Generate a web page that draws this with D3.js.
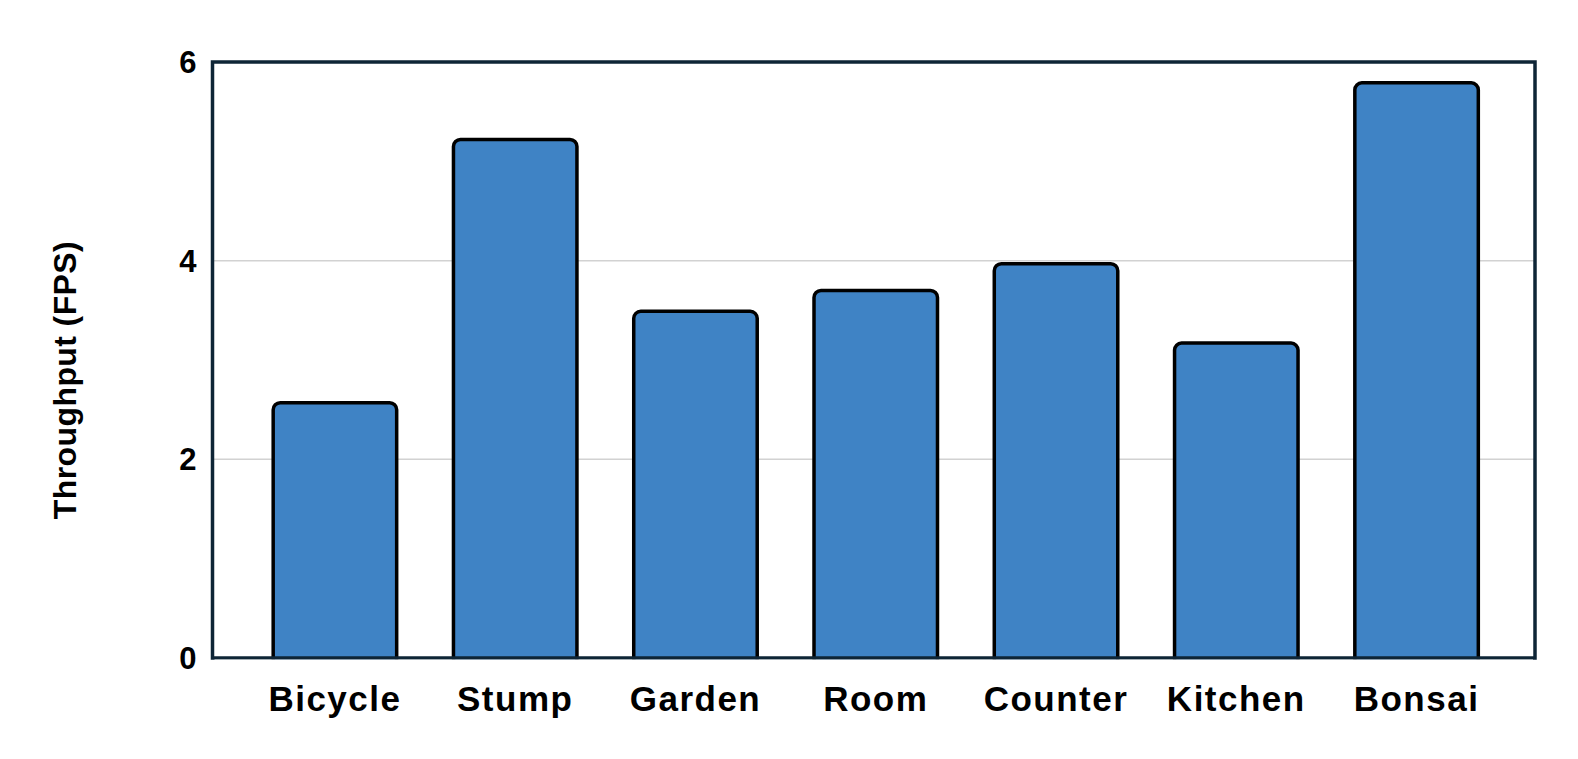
<!DOCTYPE html>
<html lang="en">
<head>
    <meta charset="UTF-8">
    <title>Throughput (FPS) by Scene</title>
    <script src="https://d3js.org/d3.v7.min.js"></script>
    <style>
        body { margin: 0; background: #fff; }
        .tick-label { font: bold 31px "Liberation Sans", Arial, sans-serif; fill: #000; }
        .cat-label { font: bold 35px "Liberation Sans", Arial, sans-serif; fill: #000; letter-spacing: 1.5px; }
        .axis-title { font: bold 32px "Liberation Sans", Arial, sans-serif; fill: #000; letter-spacing: 0.4px; }
    </style>
</head>
<body>
    <div id="chart"></div>
    <script>
        const scenes = ["Bicycle", "Stump", "Garden", "Room", "Counter", "Kitchen", "Bonsai"];
        const fps = [2.57, 5.22, 3.49, 3.70, 3.97, 3.17, 5.79];
        const yTicks = [0, 2, 4, 6];

        const W = 1578, H = 759;
        const margin = {top: 62, right: 43, bottom: 101, left: 212.5};
        const width = W - margin.left - margin.right,
              height = H - margin.top - margin.bottom;

        const svg = d3.select("#chart").append("svg")
            .attr("width", W)
            .attr("height", H);

        const g = svg.append("g")
            .attr("transform", `translate(${margin.left},${margin.top})`);

        const x = d3.scaleBand().domain(scenes).range([3, width + 1])
            .paddingInner(0.315).paddingOuter(0.32);
        const y = d3.scaleLinear().domain([0, 6]).range([height, 0]);

        // gridlines
        g.selectAll(".grid").data(yTicks.filter(t => t > 0 && t < 6)).enter()
            .append("line")
            .attr("x1", 0).attr("x2", width)
            .attr("y1", d => y(d)).attr("y2", d => y(d))
            .attr("stroke", "#d2d2d2").attr("stroke-width", 1.5);

        // bars
        g.selectAll(".bar").data(scenes).enter()
            .append("rect")
            .attr("x", d => x(d))
            .attr("width", x.bandwidth())
            .attr("y", (d, i) => y(fps[i]))
            .attr("height", (d, i) => height - y(fps[i]) + 8)
            .attr("rx", 7)
            .attr("fill", "#3f83c5")
            .attr("stroke", "#000")
            .attr("stroke-width", 3.5);

        // white cover below plot so rounded bottoms are hidden
        svg.append("rect")
            .attr("x", margin.left + 2).attr("y", margin.top + height + 1.5)
            .attr("width", width - 4).attr("height", 10)
            .attr("fill", "#fff");

        // frame
        g.append("rect")
            .attr("x", 0).attr("y", 0)
            .attr("width", width).attr("height", height)
            .attr("fill", "none")
            .attr("stroke", "#0e2536")
            .attr("stroke-width", 3.5);

        // y ticks
        g.selectAll(".tick-label").data(yTicks).enter()
            .append("text")
            .attr("class", "tick-label")
            .attr("x", -16)
            .attr("y", d => y(d))
            .attr("dy", "0.36em")
            .attr("text-anchor", "end")
            .text(d => d);

        // x labels
        g.selectAll(".cat-label").data(scenes).enter()
            .append("text")
            .attr("class", "cat-label")
            .attr("x", d => x(d) + x.bandwidth() / 2)
            .attr("y", height + 53)
            .attr("text-anchor", "middle")
            .text(d => d);

        // axis title
        svg.append("text")
            .attr("class", "axis-title")
            .attr("transform", `translate(76,${margin.top + height / 2 + 20}) rotate(-90)`)
            .attr("text-anchor", "middle")
            .text("Throughput (FPS)");
    </script>
</body>
</html>
